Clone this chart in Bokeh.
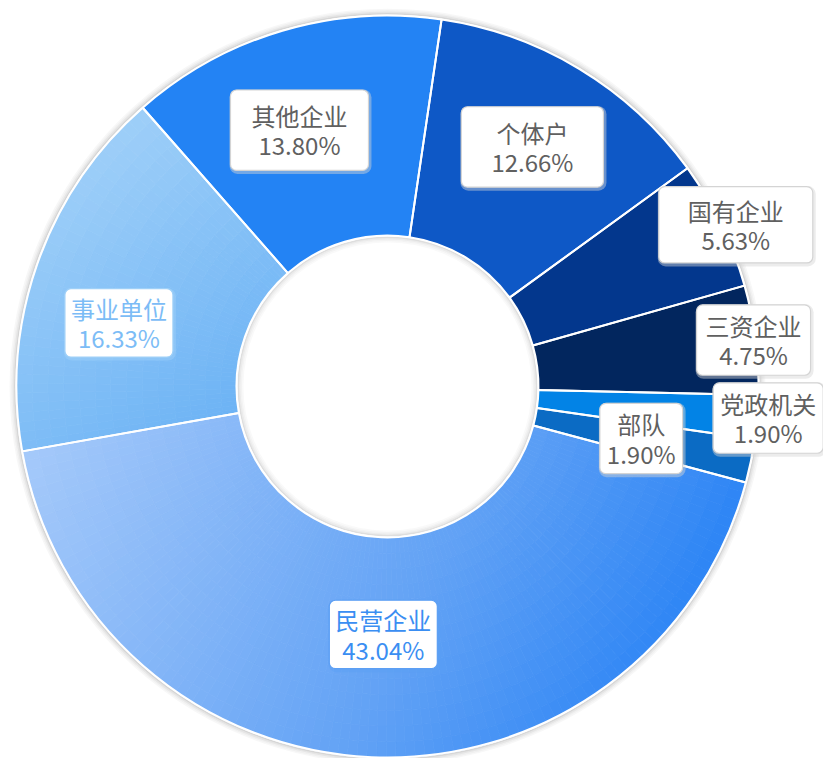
import math
import numpy as np
from bokeh.plotting import figure
from bokeh.models import Range1d
from bokeh.embed import file_html
from bokeh.resources import INLINE
from bokeh.core.properties import value

# ---------------- data ----------------
categories = ["民营企业", "事业单位", "其他企业", "个体户", "国有企业", "三资企业", "党政机关", "部队"]
percentages = [43.04, 16.33, 13.80, 12.66, 5.63, 4.75, 1.90, 1.90]
pct_labels = ["43.04%", "16.33%", "13.80%", "12.66%", "5.63%", "4.75%", "1.90%", "1.90%"]

# ---------------- style ----------------
FONT = "Noto Sans CJK SC"
FONT_SIZE = "24px"
LINE_H = 0.84
START_COMPASS = 105.0          # degrees clockwise from 12 o'clock
R_IN, R_OUT = 151, 371
W, H = 823, 758
CX, CY = 387, 386              # centre in figure pixels (from top-left)

color_stops = [
    [(0.0, "#a8cbfa"), (0.55, "#62a2f5"), (0.85, "#2f86f5"), (1.0, "#2a83f4")],
    [(0.0, "#abd6f9"), (1.0, "#62adf4")],
    [(0.0, "#2383f4"), (1.0, "#2383f4")],
    [(0.0, "#0e58c6"), (1.0, "#0e58c6")],
    [(0.0, "#03378d"), (1.0, "#03378d")],
    [(0.0, "#02265e"), (1.0, "#02265e")],
    [(0.0, "#0283e6"), (1.0, "#0283e6")],
    [(0.0, "#0b6bc4"), (1.0, "#0b6bc4")],
]
label_radius = [248, 276, 271, 280, 384, 369, 382, 259]
label_nudge = [-1.5, -6.0, -2.5, 0.0, 1.0, 0.0, 0.0, 0.0]
label_pad = [(6, 2), (6, 2), (21, 8), (30, 8), (29, 6), (9, 3), (7, 3), (7, 3)]
label_text_color = ["#3a8ef2", "#7cbcf6", "#606060", "#606060", "#606060", "#606060", "#606060", "#606060"]
label_border_color = ["#5c9ff4", "#9fd0f8", "#d4d4d4", "#d4d4d4", "#d4d4d4", "#d4d4d4", "#d4d4d4", "#d4d4d4"]


def hex2rgb(h):
    h = h.lstrip("#")
    return np.array([int(h[i:i + 2], 16) for i in (0, 2, 4)], dtype=float)


def rgb2hex(c):
    c = np.clip(np.round(c), 0, 255).astype(int)
    return "#%02x%02x%02x" % tuple(c)


def color_at(stops, t):
    t = min(max(t, 0.0), 1.0)
    for (t0, c0), (t1, c1) in zip(stops[:-1], stops[1:]):
        if t <= t1:
            f = 0.0 if t1 == t0 else (t - t0) / (t1 - t0)
            return rgb2hex(hex2rgb(c0) * (1 - f) + hex2rgb(c1) * f)
    return stops[-1][1]


p = figure(width=W, height=H, output_backend="svg", toolbar_location=None,
           x_range=Range1d(-CX, W - CX), y_range=Range1d(-(H - CY), CY),
           x_axis_location=None, y_axis_location=None, min_border=0,
           background_fill_color="white", border_fill_color="white")
p.grid.visible = False
p.outline_line_color = None

total = sum(percentages)
spans = [v / total * 360.0 for v in percentages]
c_start = []
acc = START_COMPASS
for s in spans:
    c_start.append(acc)
    acc += s
c_end = [a + s for a, s in zip(c_start, spans)]

# ring shadow (outside and inside the hole)
for k, a in enumerate([0.16, 0.10, 0.06, 0.03]):
    p.annulus(x=0, y=0, inner_radius=R_OUT + 1 + k * 1.5, outer_radius=R_OUT + 2.5 + k * 1.5,
              fill_color="#000000", fill_alpha=a, line_color=None)
    p.annulus(x=0, y=0, inner_radius=R_IN - 2.5 - k * 1.5, outer_radius=R_IN - 1 - k * 1.5,
              fill_color="#000000", fill_alpha=a * 0.8, line_color=None)

# sectors (gradient fills emulated by many small pieces)
for i, cat in enumerate(categories):
    stops = color_stops[i]
    c0, c1 = c_start[i], c_end[i]
    if stops[0][1] == stops[-1][1]:
        p.annular_wedge(x=0, y=0, inner_radius=R_IN, outer_radius=R_OUT,
                        start_angle=math.radians(90 - c1), end_angle=math.radians(90 - c0),
                        fill_color=stops[0][1], line_color=None)
        continue
    cs = np.linspace(c0, c1, 400)
    xs = np.concatenate([R_OUT * np.sin(np.radians(cs)), R_IN * np.sin(np.radians(cs))])
    ys = np.concatenate([R_OUT * np.cos(np.radians(cs)), R_IN * np.cos(np.radians(cs))])
    sx, sy = xs.min(), ys.max()          # top-left
    ex, ey = xs.max(), ys.min()          # bottom-right
    dx, dy = ex - sx, ey - sy
    dd = dx * dx + dy * dy
    n_ang = max(8, int((c1 - c0) / 1.5))
    n_rad = 14
    angs = np.linspace(c0, c1, n_ang + 1)
    rads = np.linspace(R_IN, R_OUT, n_rad + 1)
    sa, ea, ir, orr, cols = [], [], [], [], []
    for a0, a1 in zip(angs[:-1], angs[1:]):
        am = math.radians((a0 + a1) / 2)
        for r0, r1 in zip(rads[:-1], rads[1:]):
            rm = (r0 + r1) / 2
            px, py = rm * math.sin(am), rm * math.cos(am)
            t = ((px - sx) * dx + (py - sy) * dy) / dd
            sa.append(math.radians(90 - a1))
            ea.append(math.radians(90 - a0))
            ir.append(r0)
            orr.append(r1)
            cols.append(color_at(stops, t))
    p.annular_wedge(x=0, y=0, inner_radius=ir, outer_radius=orr, start_angle=sa, end_angle=ea,
                    fill_color=cols, line_color=cols, line_width=0.8)

# white borders of the sectors
p.annular_wedge(x=0, y=0, inner_radius=R_IN, outer_radius=R_OUT,
                start_angle=[math.radians(90 - c) for c in c_end],
                end_angle=[math.radians(90 - c) for c in c_start],
                fill_alpha=0, line_color="white", line_width=2)

# labels
for i, cat in enumerate(categories):
    cm = (c_start[i] + c_end[i]) / 2 + label_nudge[i]
    lx = label_radius[i] * math.sin(math.radians(cm))
    ly = label_radius[i] * math.cos(math.radians(cm))
    txt = cat + "\n" + pct_labels[i]
    ph, pv = label_pad[i]
    p.text(x=[lx], y=[ly], text=[txt], text_font=value(FONT), text_font_size=FONT_SIZE,
           text_align="center", text_baseline="middle", text_line_height=LINE_H, text_alpha=0,
           x_offset=1, y_offset=1.5,
           background_fill_color=label_border_color[i], background_fill_alpha=0.45,
           padding=dict(left=ph + 2, right=ph + 2, top=pv + 2, bottom=pv + 2), border_radius=8)
    p.text(x=[lx], y=[ly], text=[txt], text_font=value(FONT), text_font_size=FONT_SIZE,
           text_color=label_text_color[i],
           text_align="center", text_baseline="middle", text_line_height=LINE_H,
           background_fill_color="white", border_line_color=label_border_color[i],
           border_line_width=1.2,
           padding=dict(left=ph, right=ph, top=pv, bottom=pv), border_radius=6)

open("out.html", "w").write(file_html(p, INLINE))
